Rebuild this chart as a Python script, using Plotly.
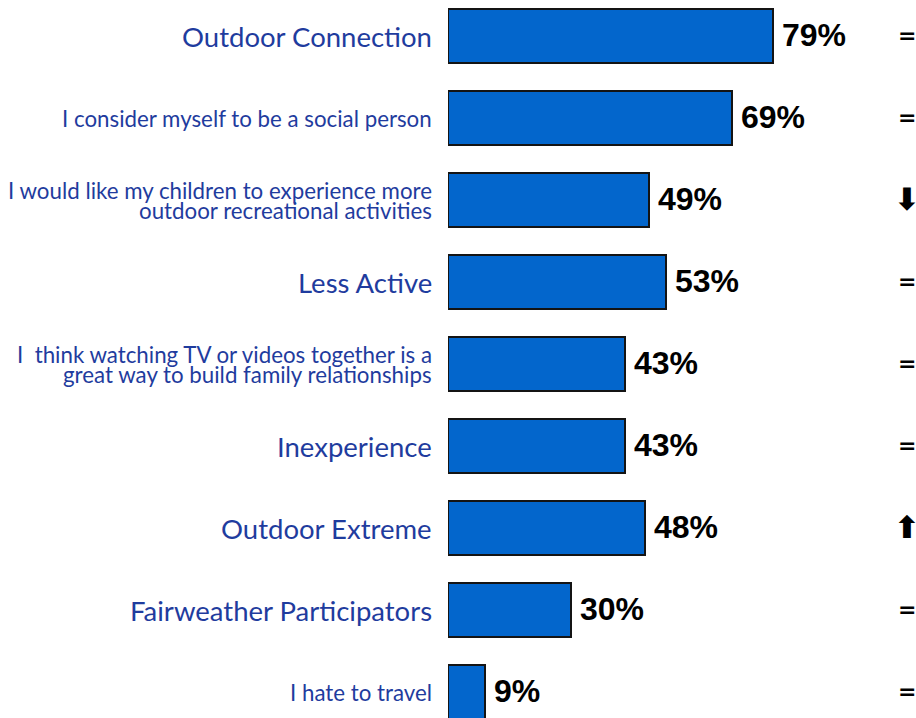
import plotly.graph_objects as go

# Survey statements / segments, top to bottom
labels = [
    "Outdoor Connection",
    "I consider myself to be a social person",
    "I would like my children to experience more<br>outdoor recreational activities",
    "Less Active",
    "I  think watching TV or videos together is a<br>great way to build family relationships",
    "Inexperience",
    "Outdoor Extreme",
    "Fairweather Participators",
    "I hate to travel",
]
# Segment names are shown larger than the attitude statements
is_segment = [True, False, False, True, False, True, True, True, False]
values = [79, 69, 49, 53, 43, 43, 48, 30, 9]
trend = ["=", "=", "down", "=", "=", "=", "up", "=", "="]

BAR_COLOR = "#0366cc"
LABEL_COLOR = "#1f3c9e"
trend_glyph = {"=": "=", "down": "⬇", "up": "⬆"}

rows = list(range(len(labels)))

fig = go.Figure()
fig.add_trace(go.Bar(
    x=values,
    y=rows,
    orientation="h",
    width=0.66,
    marker=dict(color=BAR_COLOR, line=dict(color="#141414", width=2)),
    hoverinfo="skip",
))

annotations = []
for i, (lab, seg, v, t) in enumerate(zip(labels, is_segment, values, trend)):
    lines = lab.split("<br>")
    size = 27.5 if seg else 22.3
    n = len(lines)
    for k, line in enumerate(lines):
        shift = (n - 1) * 10 - k * 20
        annotations.append(dict(
            x=0, xref="paper", xanchor="right", xshift=-14,
            y=i, yref="y", yanchor="middle", yshift=shift,
            text=line, showarrow=False,
            font=dict(family="Lato", size=size, color=LABEL_COLOR),
        ))
    # value label next to the bar end
    annotations.append(dict(
        x=v, xref="x", xanchor="left", xshift=7,
        y=i, yref="y", yanchor="middle", yshift=1,
        text=f"<b>{v}%</b>", showarrow=False,
        font=dict(family="Arial, Liberation Sans", size=32, color="#000000"),
    ))
    # change indicator on the far right
    annotations.append(dict(
        x=1.116, xref="paper", xanchor="center",
        y=i, yref="y", yanchor="middle", yshift=1,
        text=f"<b>{trend_glyph[t]}</b>", showarrow=False,
        font=dict(family="DejaVu Sans", size=22 if t == "=" else 31, color="#000000"),
    ))

fig.update_layout(
    width=916, height=718,
    margin=dict(l=448, r=57, t=0, b=0),
    paper_bgcolor="white", plot_bgcolor="white",
    showlegend=False,
    bargap=0,
    xaxis=dict(range=[0, 100], visible=False, fixedrange=True),
    yaxis=dict(range=[8.317, -0.439], visible=False, fixedrange=True),
    annotations=annotations,
)

fig.write_html("out.html")
